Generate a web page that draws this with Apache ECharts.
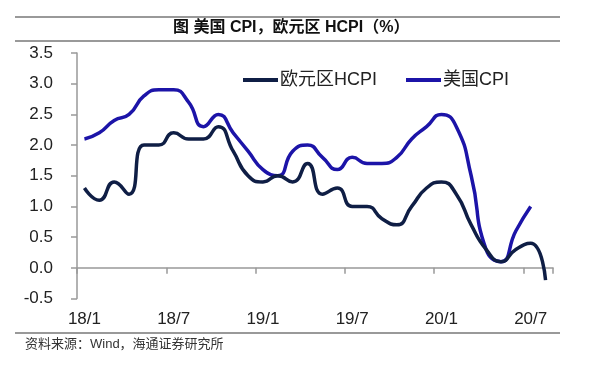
<!DOCTYPE html>
<html>
<head>
<meta charset="utf-8">
<script src="https://cdn.jsdelivr.net/npm/echarts@6/dist/echarts.min.js"></script>
<style>
html,body{margin:0;padding:0;background:#fff;}
#chart{width:600px;height:371px;}
</style>
</head>
<body>
<div id="chart"></div>
<script>
var months = ['18/1','18/2','18/3','18/4','18/5','18/6','18/7','18/8','18/9','18/10','18/11','18/12',
              '19/1','19/2','19/3','19/4','19/5','19/6','19/7','19/8','19/9','19/10','19/11','19/12',
              '20/1','20/2','20/3','20/4','20/5','20/6','20/7','20/8'];
var euroHCPI = [1.3,1.1,1.4,1.2,2.0,2.0,2.2,2.1,2.1,2.3,1.9,1.5,
                1.4,1.5,1.4,1.7,1.2,1.3,1.0,1.0,0.8,0.7,1.0,1.3,
                1.4,1.2,0.7,0.3,0.1,0.3,0.4,-0.2];
var usCPI = [2.1,2.2,2.4,2.5,2.8,2.9,2.9,2.7,2.3,2.5,2.2,1.9,
             1.6,1.5,1.9,2.0,1.8,1.6,1.8,1.7,1.7,1.8,2.1,2.3,
             2.5,2.3,1.5,0.3,0.1,0.6,1.0,null];
var yTicks = ['-0.5','0.0','0.5','1.0','1.5','2.0','2.5','3.0','3.5'];
var seriesNames = ['欧元区HCPI','美国CPI'];
var titleText = '图 美国 CPI，欧元区 HCPI（%）';
var sourceText = '资料来源：Wind，海通证券研究所';

var chart = echarts.init(document.getElementById('chart'), null, {renderer:'canvas'});
var fontFam = '"Liberation Sans", Arial, "Noto Sans CJK SC", sans-serif';
chart.setOption({
  animation: false,
  backgroundColor: '#ffffff',
  grid: {left: 77, right: 47, top: 53, bottom: 72.5, containLabel: false},
  legend: {
    data: seriesNames,
    top: 66, left: 238,
    itemWidth: 35, itemHeight: 4, itemGap: 29,
    icon: 'rect',
    textStyle: {fontSize: 18, color: '#222', fontFamily: fontFam, padding: [0,0,0,-3]}
  },
  graphic: [
    {type:'line', shape:{x1:15,y1:17,x2:560,y2:17}, style:{stroke:'#777', lineWidth:1.3}},
    {type:'line', shape:{x1:15,y1:41,x2:560,y2:41}, style:{stroke:'#777', lineWidth:1.3}},
    {type:'line', shape:{x1:15,y1:333,x2:560,y2:333}, style:{stroke:'#777', lineWidth:1.3}},
    {type:'text', left: 173, top: 20, style:{text: titleText, fill:'#111', font:'bold 16px "Liberation Sans", "Noto Sans CJK SC", sans-serif'}},
    {type:'text', left: 25, top: 338, style:{text: sourceText, fill:'#333', font:'13px "Liberation Sans", "Noto Sans CJK SC", sans-serif'}}
  ],
  xAxis: {
    type: 'category',
    data: months,
    boundaryGap: true,
    axisLine: {onZero: true, lineStyle: {color: '#999', width: 1.5}},
    axisTick: {show: true, interval: 5, length: 6, lineStyle: {color: '#999', width: 1.5}},
    axisLabel: {interval: 5, margin: 12, fontSize: 17, color: '#222', fontFamily: fontFam},
    splitLine: {show: false}
  },
  yAxis: {
    type: 'value',
    min: -0.5, max: 3.5, interval: 0.5,
    axisLine: {show: true, lineStyle: {color: '#999', width: 1.5}},
    axisTick: {show: true, length: 6, inside: false, lineStyle: {color: '#999', width: 1.5}},
    axisLabel: {margin: 24, fontSize: 17, color: '#222', fontFamily: fontFam,
      formatter: function (v) { return yTicks[Math.round((v + 0.5) / 0.5)]; }},
    splitLine: {show: false}
  },
  series: [
    {name: seriesNames[0], type: 'line', data: euroHCPI, smooth: 0.55, symbol: 'none',
     lineStyle: {color: '#0f1e45', width: 3.5}, itemStyle: {color: '#0f1e45'}, z: 3},
    {name: seriesNames[1], type: 'line', data: usCPI, smooth: 0.55, symbol: 'none',
     lineStyle: {color: '#1c14a8', width: 3.5}, itemStyle: {color: '#1c14a8'}, z: 2}
  ]
});
</script>
</body>
</html>
